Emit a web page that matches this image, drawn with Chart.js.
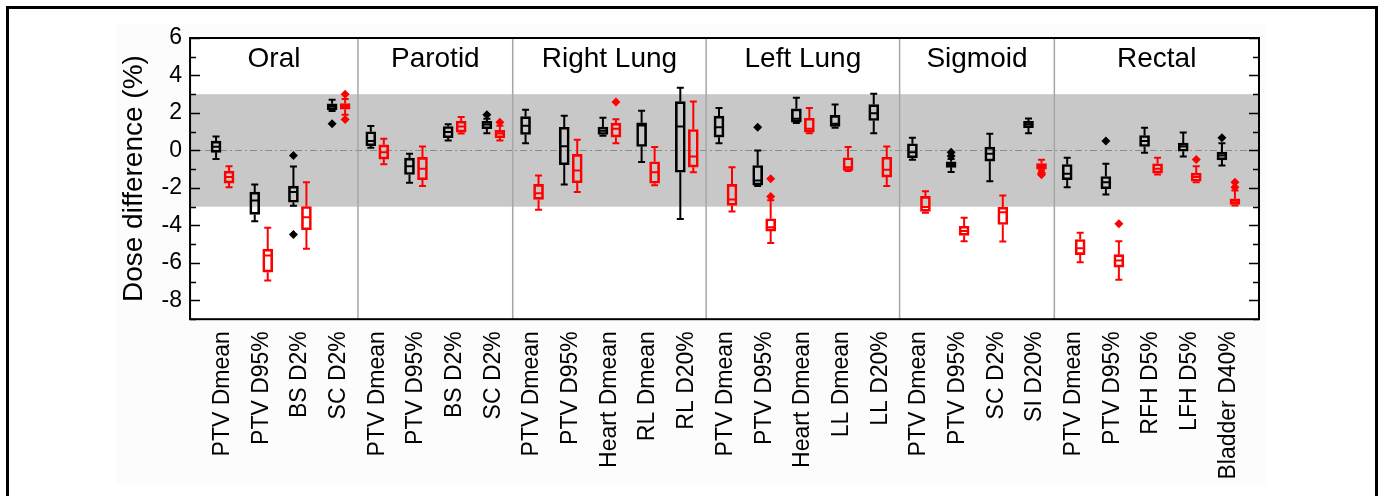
<!DOCTYPE html>
<html>
<head>
<meta charset="utf-8">
<script src="https://cdn.jsdelivr.net/npm/chart.js@4.4.1/dist/chart.umd.min.js"></script>
<style>
  html, body { margin: 0; padding: 0; background: #fff; }
  #wrap { width: 1383px; height: 496px; position: relative; }
</style>
</head>
<body>
<div id="wrap"><canvas id="c" width="1383" height="496"></canvas></div>
<script>
// ---------------- data ----------------
const categories = [
  'PTV Dmean', 'PTV D95%', 'BS D2%', 'SC D2%',
  'PTV Dmean', 'PTV D95%', 'BS D2%', 'SC D2%',
  'PTV Dmean', 'PTV D95%', 'Heart Dmean', 'RL Dmean', 'RL D20%',
  'PTV Dmean', 'PTV D95%', 'Heart Dmean', 'LL Dmean', 'LL D20%',
  'PTV Dmean', 'PTV D95%', 'SC D2%', 'SI D20%',
  'PTV Dmean', 'PTV D95%', 'RFH D5%', 'LFH D5%', 'Bladder D40%'
];
const groupNames = ['Oral', 'Parotid', 'Right Lung', 'Left Lung', 'Sigmoid', 'Rectal'];
const groupSizes = [4, 4, 5, 5, 4, 5];

// [min, q1, median, q3, max]
const blackBoxes = [
  [-0.45, -0.10, 0.20, 0.50, 0.75],
  [-3.77, -3.41, -2.67, -2.22, -1.81],
  [-2.95, -2.76, -2.22, -1.90, -0.85],
  [2.10, 2.17, 2.35, 2.49, 2.70],
  [0.15, 0.25, 0.50, 1.00, 1.30],
  [-1.72, -1.28, -0.84, -0.41, -0.18],
  [0.53, 0.68, 0.98, 1.28, 1.40],
  [0.92, 1.16, 1.39, 1.56, 1.69],
  [0.39, 0.85, 1.32, 1.81, 2.17],
  [-1.81, -0.76, 0.23, 1.24, 1.85],
  [0.78, 0.85, 1.05, 1.25, 1.75],
  [-0.62, 0.21, 1.33, 1.48, 2.12],
  [-3.66, -1.16, 1.28, 2.61, 3.34],
  [0.39, 0.71, 1.24, 1.83, 2.26],
  [-1.90, -1.85, -1.60, -0.80, 0.00],
  [1.46, 1.51, 1.69, 2.22, 2.81],
  [1.21, 1.28, 1.42, 1.87, 2.45],
  [0.92, 1.60, 1.99, 2.45, 3.02],
  [-0.50, -0.39, -0.09, 0.36, 0.68],
  [-1.15, -0.90, -0.75, -0.60, -0.45],
  [-1.64, -0.57, -0.18, 0.18, 0.89],
  [0.92, 1.21, 1.39, 1.55, 1.70],
  [-1.96, -1.56, -1.24, -0.75, -0.39],
  [-2.35, -2.04, -1.69, -1.39, -0.71],
  [-0.12, 0.21, 0.50, 0.80, 1.21],
  [-0.32, -0.04, 0.21, 0.39, 0.96],
  [-0.80, -0.50, -0.27, -0.09, 0.39]
];
const redBoxes = [
  [-1.96, -1.74, -1.42, -1.10, -0.84],
  [-6.93, -6.49, -5.60, -5.26, -4.12],
  [-5.24, -4.23, -3.56, -2.99, -1.70],
  [1.90, 2.20, 2.35, 2.50, 2.75],
  [-0.73, -0.46, -0.09, 0.30, 0.62],
  [-1.90, -1.56, -0.98, -0.37, 0.21],
  [0.90, 0.98, 1.28, 1.56, 1.78],
  [0.53, 0.68, 0.90, 1.07, 1.32],
  [-3.16, -2.61, -2.28, -1.81, -1.33],
  [-2.22, -1.72, -1.07, -0.21, 0.57],
  [0.39, 0.71, 1.16, 1.46, 1.67],
  [-1.85, -1.75, -1.16, -0.60, 0.18],
  [-1.16, -0.89, -0.32, 1.12, 2.61],
  [-3.25, -2.93, -2.61, -1.81, -0.89],
  [-4.94, -4.30, -4.09, -3.64, -2.65],
  [0.92, 0.98, 1.16, 1.72, 2.26],
  [-1.10, -1.07, -0.89, -0.39, 0.18],
  [-1.90, -1.42, -1.03, -0.36, 0.21],
  [-3.32, -3.25, -3.02, -2.45, -2.17],
  [-4.84, -4.53, -4.30, -4.04, -3.59],
  [-4.85, -3.95, -3.29, -3.02, -2.40],
  [-1.05, -1.00, -0.85, -0.70, -0.50],
  [-5.96, -5.56, -5.21, -4.75, -4.39],
  [-6.90, -6.22, -5.87, -5.56, -4.84],
  [-1.28, -1.21, -0.98, -0.71, -0.39],
  [-1.69, -1.64, -1.42, -1.21, -0.84],
  [-2.93, -2.88, -2.76, -2.58, -2.13]
];
// [category index, value]
const blackOutliers = [[2, -0.27], [2, -4.48], [3, 1.42], [7, 1.90], [14, 1.24], [19, -0.10], [19, -0.30], [23, 0.50], [26, 0.68]];
const redOutliers = [[3, 3.00], [3, 1.65], [7, 1.51], [10, 2.58], [14, -1.51], [14, -2.45], [21, -1.20], [21, -1.30], [23, -3.91], [25, -0.48], [26, -1.69], [26, -1.96]];

const yTickValues = [-8, -6, -4, -2, 0, 2, 4, 6];
const bandRange = [-3, 3];

// ---------------- style ----------------
const FONT = "'Liberation Sans', Arial, sans-serif";
const BLACK = '#000000';
const RED = '#ff0000';
const SHIFT = 0.168;

function boxData(boxes, shift) {
  return boxes.map((b, i) => ({ x: i + shift, y: [b[1], b[3]], stats: b }));
}
function outlierData(list, shift) {
  return list.map(([i, v]) => ({ x: i + shift, y: v }));
}

const overlay = {
  id: 'overlay',
  beforeDraw(chart) {
    const { ctx, chartArea: a, scales: { x, y } } = chart;
    ctx.save();
    ctx.fillStyle = '#ffffff';
    ctx.fillRect(0, 0, chart.width, chart.height);
    ctx.fillStyle = '#fcfcfc';
    ctx.fillRect(116, 24, 1150, 460);
    // outer frame (open at the bottom)
    ctx.strokeStyle = '#000';
    ctx.lineWidth = 3;
    ctx.beginPath();
    ctx.moveTo(7.5, chart.height + 5);
    ctx.lineTo(7.5, 7.5);
    ctx.lineTo(1376.5, 7.5);
    ctx.lineTo(1376.5, chart.height + 5);
    ctx.stroke();
    // plot background
    ctx.fillStyle = '#ffffff';
    ctx.fillRect(a.left, a.top, a.right - a.left, a.bottom - a.top);
    // band
    const yt = y.getPixelForValue(bandRange[1]);
    const yb = y.getPixelForValue(bandRange[0]);
    ctx.fillStyle = '#c8c8c8';
    ctx.fillRect(a.left, yt, a.right - a.left, yb - yt);
    // zero line
    const y0 = y.getPixelForValue(0);
    ctx.strokeStyle = '#8c8c8c';
    ctx.lineWidth = 1;
    ctx.setLineDash([7, 3, 2, 3]);
    ctx.beginPath();
    ctx.moveTo(a.left, Math.round(y0) + 0.5);
    ctx.lineTo(a.right, Math.round(y0) + 0.5);
    ctx.stroke();
    ctx.setLineDash([]);
    // group separators and titles
    let start = 0;
    ctx.strokeStyle = '#a6a6a6';
    ctx.lineWidth = 1.5;
    ctx.fillStyle = '#000';
    ctx.font = `28px ${FONT}`;
    ctx.textAlign = 'center';
    ctx.textBaseline = 'alphabetic';
    groupNames.forEach((name, g) => {
      const end = start + groupSizes[g] - 1;
      if (g < groupNames.length - 1) {
        const xs = x.getPixelForValue(end + 0.5);
        ctx.beginPath();
        ctx.moveTo(xs, a.top);
        ctx.lineTo(xs, a.bottom);
        ctx.stroke();
      }
      const left = g === 0 ? a.left : x.getPixelForValue(start - 0.5);
      const right = g === groupNames.length - 1 ? a.right : x.getPixelForValue(end + 0.5);
      ctx.fillText(name, (left + right) / 2, a.top + 29);
      start = end + 1;
    });
    ctx.restore();
  },
  afterDatasetsDraw(chart) {
    const { ctx, chartArea: a, scales: { x, y } } = chart;
    ctx.save();
    ctx.beginPath();
    ctx.rect(a.left, a.top, a.right - a.left, a.bottom - a.top);
    ctx.clip();
    [[blackBoxes, -SHIFT, BLACK], [redBoxes, SHIFT, RED]].forEach(([boxes, shift, color]) => {
      ctx.strokeStyle = color;
      ctx.lineWidth = 2;
      boxes.forEach((b, i) => {
        const xc = x.getPixelForValue(i + shift);
        const pMin = y.getPixelForValue(b[0]);
        const pQ1 = y.getPixelForValue(b[1]);
        const pMed = y.getPixelForValue(b[2]);
        const pQ3 = y.getPixelForValue(b[3]);
        const pMax = y.getPixelForValue(b[4]);
        ctx.beginPath();
        ctx.moveTo(xc, pQ3); ctx.lineTo(xc, pMax);
        ctx.moveTo(xc, pQ1); ctx.lineTo(xc, pMin);
        ctx.moveTo(xc - 3.5, pMax); ctx.lineTo(xc + 3.5, pMax);
        ctx.moveTo(xc - 3.5, pMin); ctx.lineTo(xc + 3.5, pMin);
        ctx.moveTo(xc - 4.5, pMed); ctx.lineTo(xc + 4.5, pMed);
        ctx.stroke();
      });
    });
    ctx.restore();
    // plot frame and inward ticks
    ctx.save();
    ctx.strokeStyle = '#000';
    ctx.lineWidth = 2;
    ctx.strokeRect(a.left, a.top, a.right - a.left, a.bottom - a.top);
    ctx.lineWidth = 1.5;
    ctx.beginPath();
    for (let v = Math.ceil(y.min); v <= y.max; v++) {
      const py = Math.round(y.getPixelForValue(v)) + 0.5;
      const len = (v % 2 === 0) ? 10 : 6;
      ctx.moveTo(a.left, py); ctx.lineTo(a.left + len, py);
      ctx.moveTo(a.right, py); ctx.lineTo(a.right - len, py);
    }
    ctx.stroke();
    ctx.restore();
  }
};

new Chart(document.getElementById('c'), {
  type: 'bar',
  data: {
    datasets: [
      {
        label: 'Black series',
        data: boxData(blackBoxes, -SHIFT),
        backgroundColor: 'rgba(0,0,0,0)',
        borderColor: BLACK,
        borderWidth: 2,
        borderSkipped: false,
        barThickness: 10,
        grouped: false,
        order: 2
      },
      {
        label: 'Red series',
        data: boxData(redBoxes, SHIFT),
        backgroundColor: 'rgba(0,0,0,0)',
        borderColor: RED,
        borderWidth: 2,
        borderSkipped: false,
        barThickness: 10,
        grouped: false,
        order: 2
      },
      {
        type: 'scatter',
        label: 'Black outliers',
        data: outlierData(blackOutliers, -SHIFT),
        pointStyle: 'rectRot',
        radius: 4.5,
        backgroundColor: BLACK,
        borderColor: BLACK,
        borderWidth: 0,
        order: 1
      },
      {
        type: 'scatter',
        label: 'Red outliers',
        data: outlierData(redOutliers, SHIFT),
        pointStyle: 'rectRot',
        radius: 4.5,
        backgroundColor: RED,
        borderColor: RED,
        borderWidth: 0,
        order: 1
      }
    ]
  },
  options: {
    responsive: false,
    animation: false,
    events: [],
    layout: { padding: { left: 117, right: 124, top: 38, bottom: 4.5 } },
    plugins: { legend: { display: false }, tooltip: { enabled: false } },
    scales: {
      x: {
        type: 'linear',
        min: -0.84,
        max: 26.79,
        offset: false,
        grid: { display: false, drawTicks: false },
        border: { display: false },
        afterBuildTicks: (scale) => { scale.ticks = categories.map((_, i) => ({ value: i })); },
        ticks: {
          autoSkip: false,
          minRotation: 90,
          maxRotation: 90,
          padding: 12,
          color: '#000',
          font: { family: FONT, size: 23 },
          callback: (v) => categories[v]
        }
      },
      y: {
        min: -9,
        max: 6,
        grid: { display: false, drawTicks: false },
        border: { display: false },
        afterBuildTicks: (scale) => { scale.ticks = yTickValues.map(v => ({ value: v })); },
        ticks: {
          padding: 8,
          color: '#000',
          font: { family: FONT, size: 23 }
        },
        title: {
          display: true,
          text: 'Dose difference (%)',
          color: '#000',
          font: { family: FONT, size: 28 },
          padding: { top: 0, bottom: 3 }
        }
      }
    }
  },
  plugins: [overlay]
});
</script>
</body>
</html>
